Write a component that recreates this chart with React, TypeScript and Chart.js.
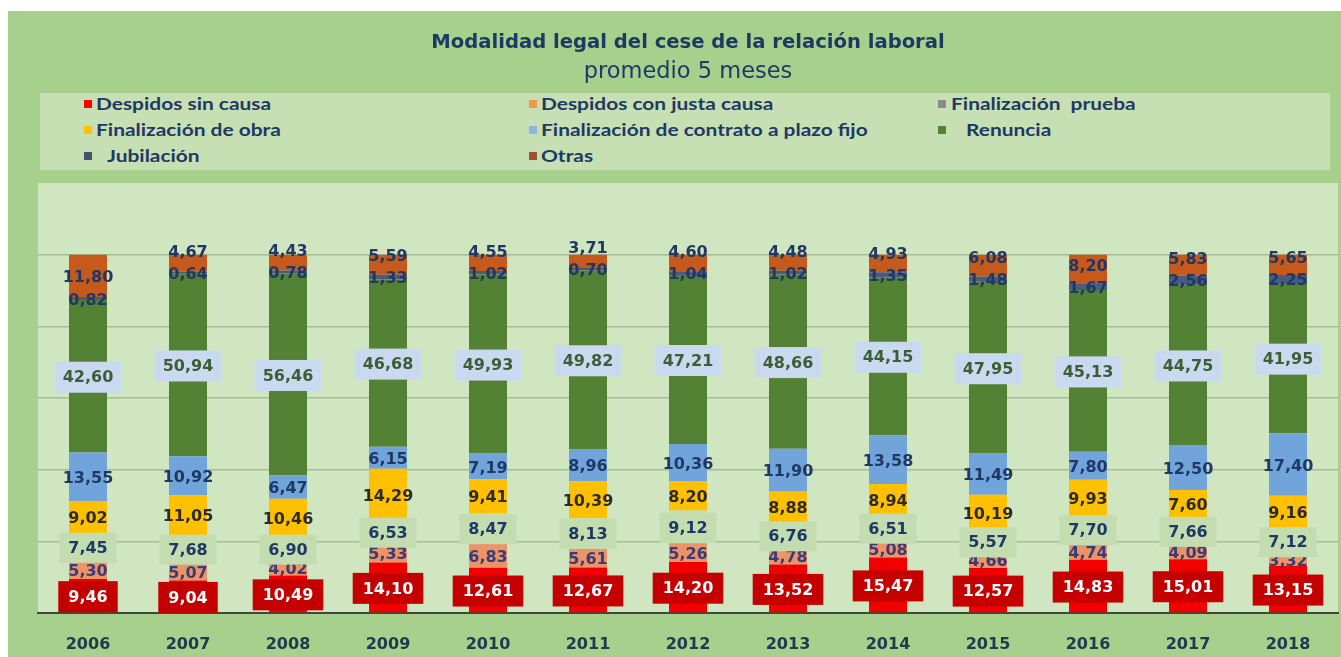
import React, { useEffect, useRef } from 'react';
import { Chart, registerables } from 'chart.js';

Chart.register(...registerables);

const years = ['2006', '2007', '2008', '2009', '2010', '2011', '2012', '2013', '2014', '2015', '2016', '2017', '2018'];

const despidosSinCausa = [9.46, 9.04, 10.49, 14.10, 12.61, 12.67, 14.20, 13.52, 15.47, 12.57, 14.83, 15.01, 13.15];
const despidosJustaCausa = [5.30, 5.07, 4.02, 5.33, 6.83, 5.61, 5.26, 4.78, 5.08, 4.66, 4.74, 4.09, 3.32];
const finalizacionPrueba = [7.45, 7.68, 6.90, 6.53, 8.47, 8.13, 9.12, 6.76, 6.51, 5.57, 7.70, 7.66, 7.12];
const finalizacionObra = [9.02, 11.05, 10.46, 14.29, 9.41, 10.39, 8.20, 8.88, 8.94, 10.19, 9.93, 7.60, 9.16];
const plazoFijo = [13.55, 10.92, 6.47, 6.15, 7.19, 8.96, 10.36, 11.90, 13.58, 11.49, 7.80, 12.50, 17.40];
const renuncia = [42.60, 50.94, 56.46, 46.68, 49.93, 49.82, 47.21, 48.66, 44.15, 47.95, 45.13, 44.75, 41.95];
const jubilacion = [0.82, 0.64, 0.78, 1.33, 1.02, 0.70, 1.04, 1.02, 1.35, 1.48, 1.67, 2.56, 2.25];
const otras = [11.80, 4.67, 4.43, 5.59, 4.55, 3.71, 4.60, 4.48, 4.93, 6.08, 8.20, 5.83, 5.65];

const seriesNames = [
  'Despidos sin causa',
  'Despidos con justa causa',
  'Finalización  prueba',
  'Finalización de obra',
  'Finalización de contrato a plazo fijo',
  'Renuncia',
  'Jubilación',
  'Otras',
];
const seriesValues = [despidosSinCausa, despidosJustaCausa, finalizacionPrueba, finalizacionObra, plazoFijo, renuncia, jubilacion, otras];

const barColors = ['#f20000', '#ec9468', '#c3ddb0', '#ffc000', '#72a4dc', '#548235', '#4a5a80', '#c65a1c'];
const legendColors = ['#ff0000', '#f79646', '#8c8c8c', '#ffc000', '#8db4e2', '#548235', '#44546a', '#a0522d'];

const labelStyles = [
  { box: '#c40000', color: '#ffffff', padX: 10, h: 31 },
  { box: null, color: '#3a3c78', padX: 0, h: 0 },
  { box: '#c3ddb0', color: '#1f3864', padX: 9, h: 30 },
  { box: null, color: '#2e2a28', padX: 0, h: 0 },
  { box: null, color: '#1f3864', padX: 0, h: 0 },
  { box: '#c9daf0', color: '#3b5e34', padX: 8, h: 31 },
  { box: null, color: '#1f3864', padX: 0, h: 0 },
  { box: null, color: '#1f3864', padX: 0, h: 0 },
];

const legendLayout = [
  { left: 44, text: 56, top: 11 },
  { left: 489, text: 501, top: 11 },
  { left: 898, text: 911, top: 11 },
  { left: 44, text: 56, top: 37 },
  { left: 489, text: 501, top: 37 },
  { left: 898, text: 926, top: 37 },
  { left: 44, text: 67, top: 63 },
  { left: 489, text: 501, top: 63 },
];

const fmt = (v: number) => v.toFixed(2).replace('.', ',');

const plotBgPlugin = {
  id: 'plotBg',
  beforeDraw(chart: any) {
    const { ctx, chartArea } = chart;
    ctx.save();
    ctx.fillStyle = '#d0e6c1';
    ctx.fillRect(chartArea.left, chartArea.top, chartArea.right - chartArea.left, chartArea.bottom - chartArea.top);
    ctx.restore();
  },
};

const segLabelPlugin = {
  id: 'segLabels',
  afterDatasetsDraw(chart: any) {
    const ctx = chart.ctx;
    ctx.save();
    ctx.font = 'bold 16px "DejaVu Sans"';
    ctx.textAlign = 'center';
    ctx.textBaseline = 'middle';
    const order = [7, 6, 5, 4, 3, 1, 2, 0];
    for (const di of order) {
      const meta = chart.getDatasetMeta(di);
      const st = labelStyles[di];
      meta.data.forEach((el: any, i: number) => {
        const p = el.getProps(['x', 'y', 'base'], true);
        let cy = (p.y + p.base) / 2 + 1;
        if (di === 7) {
          const jp = chart.getDatasetMeta(6).data[i].getProps(['y', 'base'], true);
          const jy = (jp.y + jp.base) / 2 + 1;
          cy = Math.min(cy, jy - 22);
        }
        const txt = fmt(seriesValues[di][i]);
        const w = ctx.measureText(txt).width;
        if (st.box) {
          ctx.fillStyle = st.box;
          ctx.fillRect(p.x - w / 2 - st.padX, cy - st.h / 2, w + 2 * st.padX, st.h);
        }
        ctx.fillStyle = st.color;
        ctx.fillText(txt, p.x, cy + 1);
      });
    }
    ctx.restore();
  },
};

export default function App() {
  const canvasRef = useRef<HTMLCanvasElement | null>(null);

  useEffect(() => {
    if (!canvasRef.current) return;
    const chart = new Chart(canvasRef.current, {
      type: 'bar',
      data: {
        labels: years,
        datasets: seriesNames.map((name, i) => ({
          label: name,
          data: seriesValues[i],
          backgroundColor: barColors[i],
          borderWidth: 0,
          barPercentage: 0.38,
          categoryPercentage: 1,
        })),
      },
      options: {
        animation: false,
        responsive: false,
        layout: { padding: { left: 30, right: 3, top: 0, bottom: 0 } },
        plugins: {
          legend: { display: false },
          tooltip: { enabled: false },
          title: {
            display: true,
            text: 'Modalidad legal del cese de la relación laboral',
            color: '#1f3864',
            font: { family: 'DejaVu Sans', size: 19.6, weight: 'bold' },
            padding: { top: 20, bottom: 2 },
          },
          subtitle: {
            display: true,
            text: 'promedio 5 meses',
            color: '#1f3864',
            font: { family: 'DejaVu Sans', size: 22.5, weight: 'normal' },
            padding: { top: 2, bottom: 97.5 },
          },
        },
        scales: {
          x: {
            stacked: true,
            grid: { display: false },
            border: { display: true, color: '#3b4a3b', width: 2 },
            ticks: {
              color: '#1f3a4f',
              font: { family: 'DejaVu Sans', size: 16, weight: 'bold' },
              padding: 14,
            },
            afterFit: (scale: any) => {
              scale.height = 44;
            },
          },
          y: {
            stacked: true,
            min: 0,
            max: 120,
            ticks: { display: false, stepSize: 20 },
            border: { display: false },
            grid: {
              drawTicks: false,
              lineWidth: 1.5,
              color: (c: any) => (c.tick && (c.tick.value === 0 || c.tick.value === 120) ? 'rgba(0,0,0,0)' : '#a5bb97'),
            },
            afterFit: (scale: any) => {
              scale.width = 0;
            },
          },
        },
      },
      plugins: [plotBgPlugin, segLabelPlugin],
    });
    return () => chart.destroy();
  }, []);

  return (
    <div style={{ position: 'fixed', left: 8, top: 11, width: 1333, height: 646, background: '#a8d08d', overflow: 'hidden' }}>
      <canvas ref={canvasRef} width={1333} height={646} style={{ position: 'absolute', left: 0, top: 0 }} />
      <div
        style={{
          position: 'absolute',
          left: 32,
          top: 82,
          width: 1290,
          height: 77,
          background: '#c6e0b4',
          fontFamily: 'Lato, sans-serif',
          fontWeight: 'bold',
          fontSize: 17,
          color: '#1f3864',
        }}
      >
        {seriesNames.map((name, i) => (
          <React.Fragment key={name}>
            <div
              style={{
                position: 'absolute',
                left: legendLayout[i].left,
                top: legendLayout[i].top - 4,
                width: 8,
                height: 8,
                background: legendColors[i],
              }}
            />
            <div
              style={{
                position: 'absolute',
                left: legendLayout[i].text,
                top: legendLayout[i].top - 11,
                lineHeight: '22px',
                whiteSpace: 'pre',
                transform: 'scaleX(1.23)',
                transformOrigin: 'left center',
              }}
            >
              {name}
            </div>
          </React.Fragment>
        ))}
      </div>
    </div>
  );
}
